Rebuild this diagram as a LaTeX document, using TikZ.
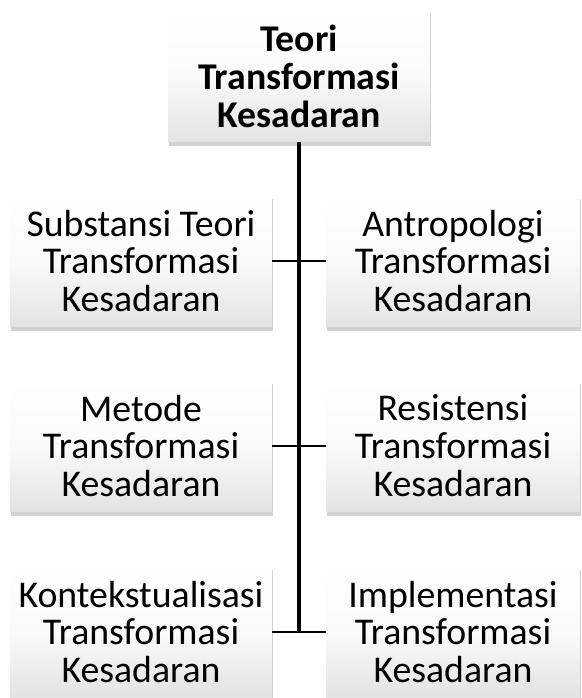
\documentclass[tikz,border=0pt]{standalone}
\usepackage{fontspec}
\setmainfont{Carlito}
\usetikzlibrary{shadows}

\begin{document}
\begin{tikzpicture}[x = 0.02cm, y = -0.02cm, font = {\fontsize{21.5}{21.6}\selectfont}]
	\tikzstyle{boxStyle}=[shape = rectangle, align = center, inner sep = 0pt, minimum width = 5.24cm, minimum height = 2.64cm, top color = white, bottom color = gray!22, middle color = gray!4, drop shadow = {shadow xshift = 0.6pt, shadow yshift = -2pt, fill = gray!70, opacity = 0.5}]
	\tikzstyle{rightStyle}=[boxStyle, minimum width = 5.08cm]
	\tikzstyle{topStyle}=[boxStyle, font = {\fontsize{21.5}{21.6}\selectfont\bfseries}]
	\tikzstyle{trunkStyle}=[line width = 2pt]
	\tikzstyle{branchStyle}=[line width = 1.4pt]
	\useasboundingbox (0, 0) rectangle (582, 698);
	\node[topStyle] (t0) at (299, 76) {Teori\\Transformasi\\Kesadaran};
	\node[boxStyle] (l1) at (141, 261) {Substansi Teori\\Transformasi\\Kesadaran};
	\node[rightStyle] (r1) at (453, 261) {Antropologi\\Transformasi\\Kesadaran};
	\node[boxStyle] (l2) at (141, 446) {Metode\\Transformasi\\Kesadaran};
	\node[rightStyle] (r2) at (453, 446) {Resistensi\\Transformasi\\Kesadaran};
	\node[boxStyle] (l3) at (141, 632) {Kontekstualisasi\\Transformasi\\Kesadaran};
	\node[rightStyle] (r3) at (453, 632) {Implementasi\\Transformasi\\Kesadaran};
	\coordinate (j3) at (299, 632);
	\draw[trunkStyle] (t0.south) -- (j3);
	\draw[branchStyle] (l1.east) -- (r1.west);
	\draw[branchStyle] (l2.east) -- (r2.west);
	\draw[branchStyle] (l3.east) -- (r3.west);
\end{tikzpicture}
\end{document}
